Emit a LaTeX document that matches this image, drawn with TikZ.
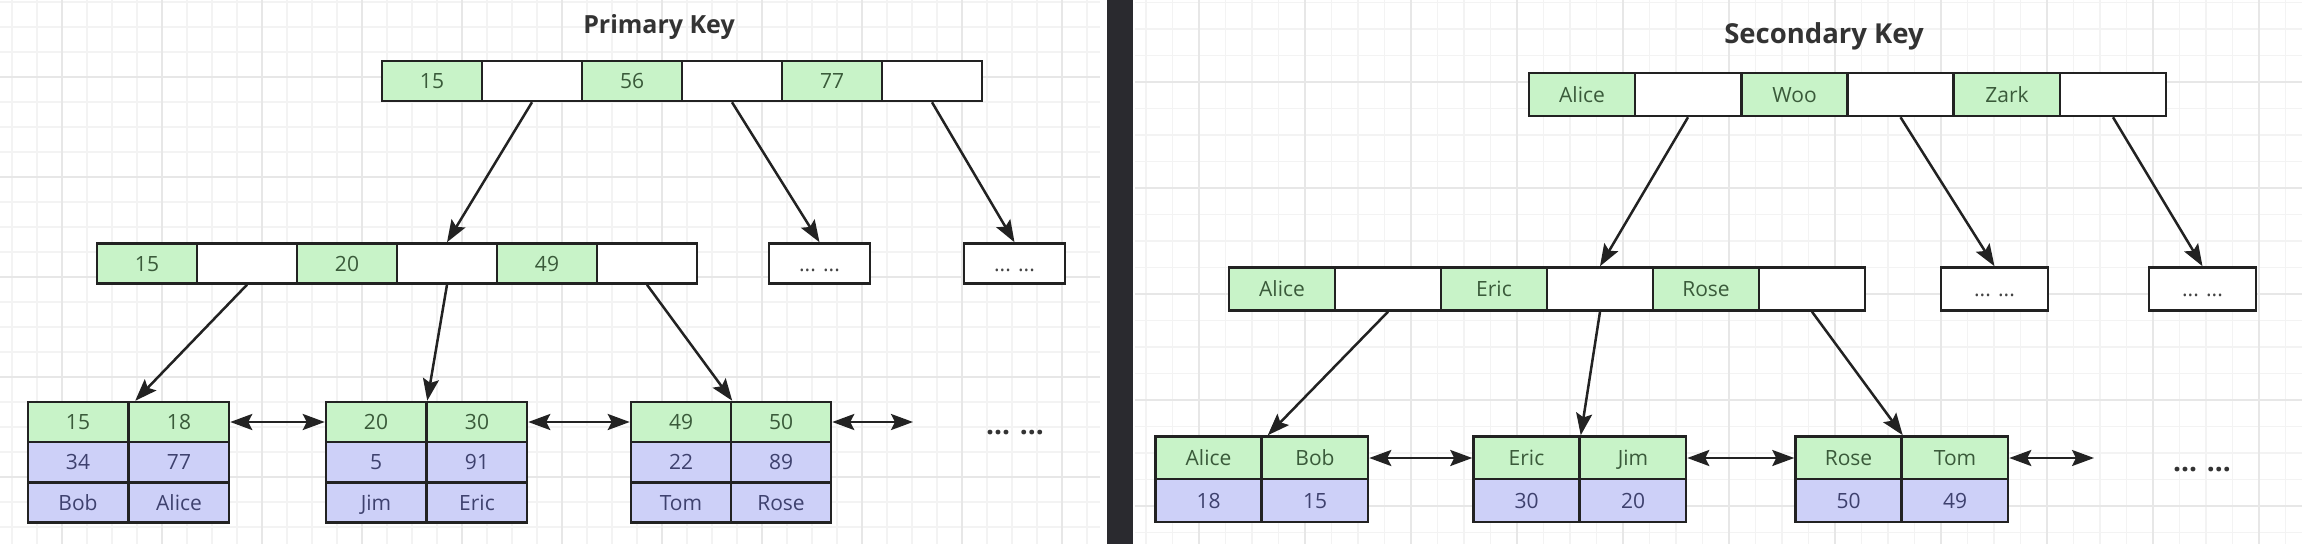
\documentclass[tikz,border=0pt]{standalone}
\usepackage{fontspec}
\setmainfont{Open Sans}
\usetikzlibrary{arrows.meta}
\definecolor{gfill}{HTML}{C8F3C8}
\definecolor{bfill}{HTML}{CDD0F8}
\definecolor{linec}{HTML}{222222}
\definecolor{gtext}{HTML}{3A5A3A}
\definecolor{btext}{HTML}{3E416E}
\definecolor{dotc}{HTML}{444444}
\definecolor{gridmin}{HTML}{F3F3F3}
\definecolor{gridmaj}{HTML}{E7E7E7}
\definecolor{barc}{HTML}{2A2A2F}
\definecolor{titlec}{HTML}{333333}
\begin{document}
\begin{tikzpicture}[x=1pt,y=-1pt,
 cellbase/.style={draw=linec,line width=2.5pt,inner sep=0pt,text height=15.5pt,text depth=0pt,font=\fontsize{21pt}{24pt}\selectfont},
 pc/.style={cellbase,minimum width=100pt,minimum height=40pt},
 sc/.style={cellbase,minimum width=106pt,minimum height=43pt},
 gc/.style={fill=gfill,text=gtext},
 bc/.style={fill=bfill,text=btext},
 wc/.style={fill=white},
 ec/.style={fill=white,text=dotc},
 arr/.style={draw=linec,line width=2.5pt,-{Stealth[length=22pt,width=16pt,inset=4pt]}},
 darr/.style={draw=linec,line width=2.6pt,{Stealth[length=22pt,width=16pt,inset=4pt]}-{Stealth[length=22pt,width=16pt,inset=4pt]}},
 ttl/.style={text=titlec,anchor=base,inner sep=0pt},
 dots/.style={font=\fontsize{28pt}{32pt}\selectfont\bfseries,text=titlec,inner sep=0pt,anchor=base},
 gmin/.style={draw=gridmin,line width=1.2pt},
 gmaj/.style={draw=gridmaj,line width=1.5pt}
]
\useasboundingbox (0,0) rectangle (2302,544);
\fill[white] (0,0) rectangle (2302,544);
% ---- grid, left panel
\foreach \x in {12,37,...,1100} \draw[gmin] (\x,0) -- (\x,544);
\foreach \y in {2,27,...,544} \draw[gmin] (0,\y) -- (1100,\y);
\foreach \x in {62,162,...,1100} \draw[gmaj] (\x,0) -- (\x,544);
\foreach \y in {77,177,...,544} \draw[gmaj] (0,\y) -- (1100,\y);
% ---- grid, right panel
\foreach \x in {1146,1172.5,...,2302} \draw[gmin] (\x,0) -- (\x,544);
\foreach \y in {2.5,29,...,544} \draw[gmin] (1135,\y) -- (2302,\y);
\foreach \x in {1199,1305,...,2302} \draw[gmaj] (\x,0) -- (\x,544);
\foreach \y in {82,188,...,544} \draw[gmaj] (1135,\y) -- (2302,\y);
% ---- divider
\fill[barc] (1107,0) rectangle (1133,544);

% ================= PRIMARY KEY =================
\node[ttl,font=\fontsize{25pt}{30pt}\selectfont\bfseries] (ptitle) at (659,33) {Primary Key};
% root
\node[pc,gc] (pt1) at (432,81) {15};
\node[pc,wc] (pt2) at (532,81) {};
\node[pc,gc] (pt3) at (632,81) {56};
\node[pc,wc] (pt4) at (732,81) {};
\node[pc,gc] (pt5) at (832,81) {77};
\node[pc,wc] (pt6) at (932,81) {};
% level 2
\node[pc,gc] (pm1) at (147,263.5) {15};
\node[pc,wc] (pm2) at (247,263.5) {};
\node[pc,gc] (pm3) at (347,263.5) {20};
\node[pc,wc] (pm4) at (447,263.5) {};
\node[pc,gc] (pm5) at (547,263.5) {49};
\node[pc,wc] (pm6) at (647,263.5) {};
\node[pc,ec,minimum width=101pt] (pe1) at (819.5,263.5) {... ...};
\node[pc,ec,minimum width=101pt] (pe2) at (1014.5,263.5) {... ...};
% leaves
\node[pc,gc] (p1ka) at (78,422) {15};
\node[pc,gc] (p1kb) at (179,422) {18};
\node[pc,bc] (p1va) at (78,462) {34};
\node[pc,bc] (p1vb) at (179,462) {77};
\node[pc,bc] (p1na) at (78,502.5) {Bob};
\node[pc,bc] (p1nb) at (179,502.5) {Alice};
\node[pc,gc] (p2ka) at (376,422) {20};
\node[pc,gc] (p2kb) at (477,422) {30};
\node[pc,bc] (p2va) at (376,462) {5};
\node[pc,bc] (p2vb) at (477,462) {91};
\node[pc,bc] (p2na) at (376,502.5) {Jim};
\node[pc,bc] (p2nb) at (477,502.5) {Eric};
\node[pc,gc] (p3ka) at (681,422) {49};
\node[pc,gc] (p3kb) at (781,422) {50};
\node[pc,bc] (p3va) at (681,462) {22};
\node[pc,bc] (p3vb) at (781,462) {89};
\node[pc,bc] (p3na) at (681,502.5) {Tom};
\node[pc,bc] (p3nb) at (781,502.5) {Rose};
\node[dots] (pmore) at (1015,434) {... ...};
\coordinate (pend) at (913,422);
% connectors
\draw[arr] (pt2.south) -- (pm4.north);
\draw[arr] (pt4.south) -- (pe1.north);
\draw[arr] (pt6.south) -- (pe2.north);
\draw[arr] (pm2.south) -- ([xshift=6pt]p1ka.north east);
\draw[arr] (pm4.south) -- (p2ka.north east);
\draw[arr] (pm6.south) -- (p3ka.north east);
\draw[darr] (p1kb.east) -- (p2ka.west);
\draw[darr] (p2kb.east) -- (p3ka.west);
\draw[darr] (p3kb.east) -- (pend);

% ================= SECONDARY KEY =================
\node[ttl,font=\fontsize{27.5pt}{32pt}\selectfont\bfseries] (stitle) at (1824,43) {Secondary Key};
% root
\node[sc,gc] (st1) at (1582,94.5) {Alice};
\node[sc,wc] (st2) at (1688,94.5) {};
\node[sc,gc] (st3) at (1794.5,94.5) {Woo};
\node[sc,wc] (st4) at (1900.5,94.5) {};
\node[sc,gc] (st5) at (2007,94.5) {Zark};
\node[sc,wc] (st6) at (2113,94.5) {};
% level 2
\node[sc,gc] (sm1) at (1282,289) {Alice};
\node[sc,wc] (sm2) at (1388,289) {};
\node[sc,gc] (sm3) at (1494,289) {Eric};
\node[sc,wc] (sm4) at (1600,289) {};
\node[sc,gc] (sm5) at (1706,289) {Rose};
\node[sc,wc] (sm6) at (1812,289) {};
\node[sc,ec,minimum width=107pt] (se1) at (1994.5,289) {... ...};
\node[sc,ec,minimum width=107pt] (se2) at (2202.5,289) {... ...};
% leaves
\node[sc,gc] (s1ka) at (1208.5,458) {Alice};
\node[sc,gc] (s1kb) at (1315,458) {Bob};
\node[sc,bc] (s1va) at (1208.5,500.5) {18};
\node[sc,bc] (s1vb) at (1315,500.5) {15};
\node[sc,gc] (s2ka) at (1526.5,458) {Eric};
\node[sc,gc] (s2kb) at (1633,458) {Jim};
\node[sc,bc] (s2va) at (1526.5,500.5) {30};
\node[sc,bc] (s2vb) at (1633,500.5) {20};
\node[sc,gc] (s3ka) at (1848.5,458) {Rose};
\node[sc,gc] (s3kb) at (1955,458) {Tom};
\node[sc,bc] (s3va) at (1848.5,500.5) {50};
\node[sc,bc] (s3vb) at (1955,500.5) {49};
\node[dots] (smore) at (2202,471) {... ...};
\coordinate (send) at (2094,458);
% connectors
\draw[arr] (st2.south) -- (sm4.north);
\draw[arr] (st4.south) -- (se1.north);
\draw[arr] (st6.south) -- (se2.north);
\draw[arr] (sm2.south) -- ([xshift=5pt]s1ka.north east);
\draw[arr] (sm4.south) -- (s2ka.north east);
\draw[arr] (sm6.south) -- (s3ka.north east);
\draw[darr] (s1kb.east) -- (s2ka.west);
\draw[darr] (s2kb.east) -- (s3ka.west);
\draw[darr] (s3kb.east) -- (send);
\end{tikzpicture}
\end{document}
